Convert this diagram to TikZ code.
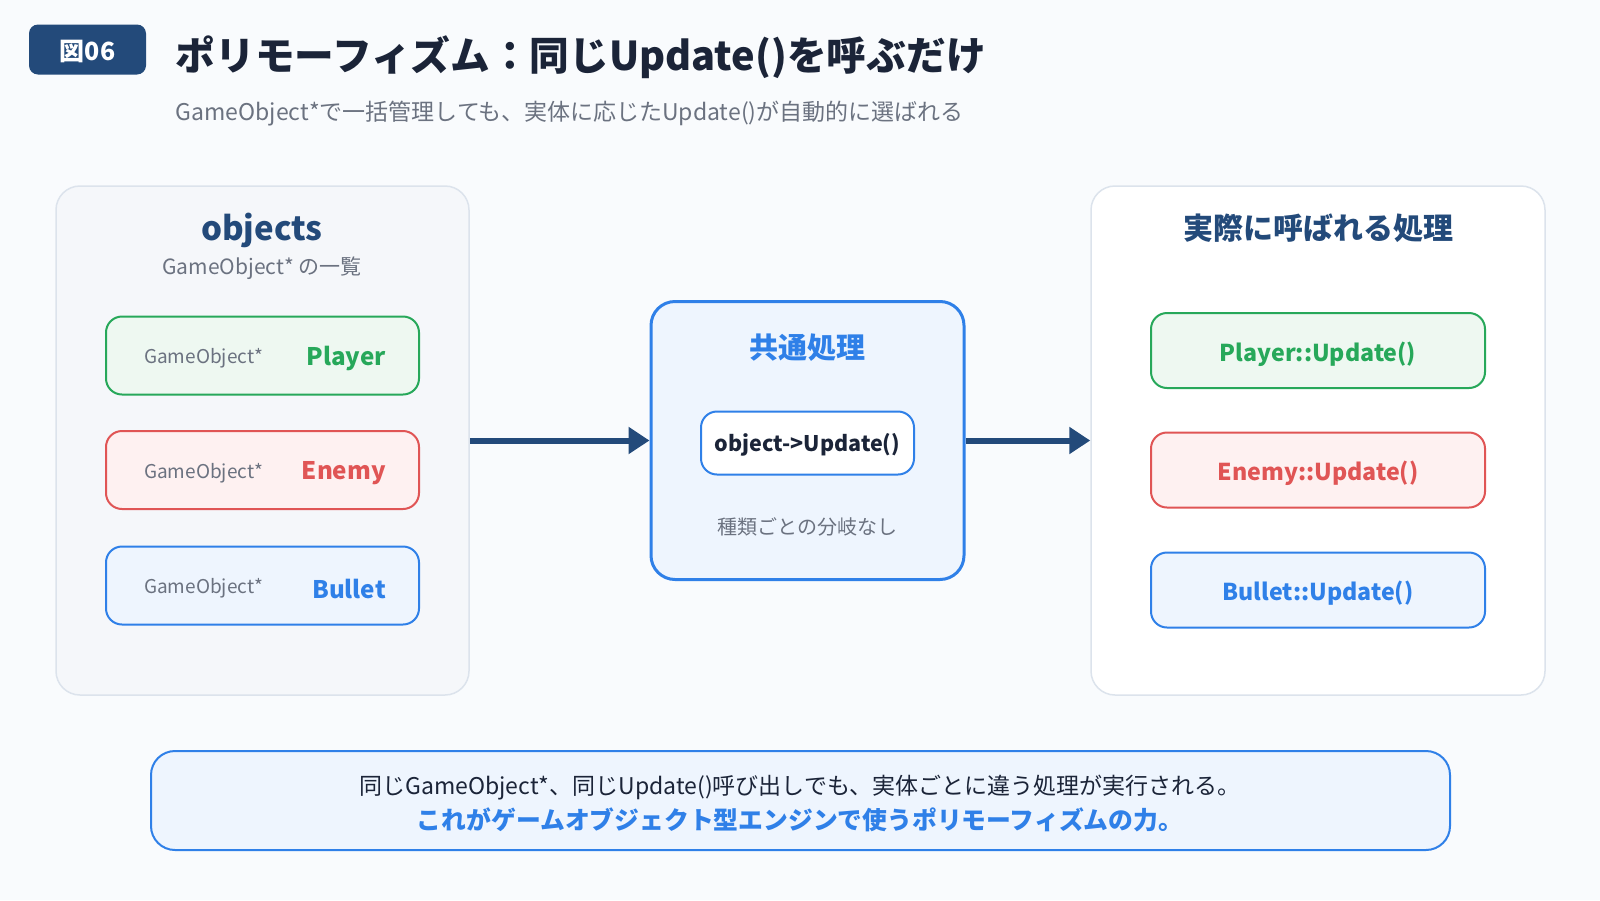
\documentclass[tikz,border=0pt]{standalone}
\usepackage{fontspec}
\setmainfont{Noto Sans CJK JP}
\usepackage{tikz}
\usetikzlibrary{arrows.meta, positioning}

\definecolor{bgpage}{HTML}{F9FBFD}
\definecolor{navy}{HTML}{234A7A}
\definecolor{ink}{HTML}{1B2438}
\definecolor{muted}{HTML}{6B7280}
\definecolor{panelgray}{HTML}{F5F7FA}
\definecolor{panelline}{HTML}{DCE3EC}
\definecolor{grn}{HTML}{27A85A}
\definecolor{grnfill}{HTML}{EEF8F1}
\definecolor{rd}{HTML}{E05555}
\definecolor{rdfill}{HTML}{FEF1F1}
\definecolor{blu}{HTML}{2F80E8}
\definecolor{blufill}{HTML}{EEF5FE}

\newcommand{\fsz}[1]{\fontsize{#1}{#1}\selectfont}

\tikzset{
  panel/.style={draw=panelline, line width=1.5pt, rounded corners=24pt,
    minimum width=#1, minimum height=509pt, inner sep=0pt},
  ptrbox/.style={draw=#1, fill=#1fill, line width=2pt, rounded corners=16pt,
    minimum width=313pt, minimum height=78pt, inner sep=0pt},
  updbox/.style={draw=#1, fill=#1fill, line width=2pt, rounded corners=16pt,
    minimum width=334pt, minimum height=75pt, inner sep=0pt},
  updtext/.style={text=#1, font=\fsz{23.2}\bfseries, inner sep=0pt},
  ptrlabel/.style={text=muted, font=\fsz{19}, inner sep=0pt, anchor=west},
  kindlabel/.style={text=#1, font=\fsz{24.2}\bfseries, inner sep=0pt, anchor=east},
  flow/.style={navy, line width=6pt, -{Triangle[length=21pt, width=26pt]}},
}

\begin{document}
\begin{tikzpicture}[x=1pt, y=-1pt]

\useasboundingbox[fill=bgpage] (0,0) rectangle (1600,900);

% header
\node[fill=navy, rounded corners=9pt, minimum width=117pt, minimum height=50pt] (badge) at (87.5,49.5) {};
\node[text=white, font=\fsz{25}\bfseries, inner sep=0pt] (badge-text) at ([yshift=-2pt]badge.center) {図06};
\node[anchor=west, inner sep=0pt, text=ink, font=\fsz{39.7}\bfseries] (title) at (175.5,57)
  {ポリモーフィズム：同じUpdate()を呼ぶだけ};
\node[anchor=west, inner sep=0pt, text=muted, font=\fsz{23}] (subtitle) at (175.5,114)
  {GameObject*で一括管理しても、実体に応じたUpdate()が自動的に選ばれる};

% left: the list of pointers
\node[panel=413pt, fill=panelgray] (objs) at (262.5,440.5) {};
\node[text=navy, font=\fsz{33}\bfseries, inner sep=0pt] (objs-title) at (262,230.5) {objects};
\node[text=muted, font=\fsz{21}, inner sep=0pt] (objs-sub) at (262,268) {GameObject* の一覧};

\node[ptrbox=grn] (ptr-player) at (262.5,355.5) {};
\node[ptrbox=rd] (ptr-enemy) at (262.5,470) {};
\node[ptrbox=blu] (ptr-bullet) at (262.5,585.5) {};

\node[ptrlabel] at ([xshift=39pt, yshift=-3pt]ptr-player.west) {GameObject*};
\node[ptrlabel] at ([xshift=39pt, yshift=-3pt]ptr-enemy.west) {GameObject*};
\node[ptrlabel] at ([xshift=39pt, yshift=-3pt]ptr-bullet.west) {GameObject*};
\node[kindlabel=grn] at ([xshift=-34pt, yshift=-3pt]ptr-player.east) {Player};
\node[kindlabel=rd] at ([xshift=-34pt, yshift=-3pt]ptr-enemy.east) {Enemy};
\node[kindlabel=blu] at ([xshift=-34pt, yshift=-3pt]ptr-bullet.east) {Bullet};

% middle: common call
\node[draw=blu, fill=blufill, line width=3pt, rounded corners=24pt,
  minimum width=313pt, minimum height=278pt] (common) at (807.5,440.5) {};
\node[text=blu, font=\fsz{29}\bfseries, inner sep=0pt] (common-title) at (807.5,348) {共通処理};
\node[draw=blu, fill=white, line width=2pt, rounded corners=16pt,
  minimum width=213pt, minimum height=63pt] (call) at (807.5,443) {};
\node[text=ink, font=\fsz{21.5}\bfseries, inner sep=0pt] (call-text) at ([yshift=-2pt]call.center) {object->Update()};
\node[text=muted, font=\fsz{20}, inner sep=0pt] (nobranch) at (807.5,526.5) {種類ごとの分岐なし};

% right: what actually runs
\node[panel=454pt, fill=white] (called) at (1318,440.5) {};
\node[text=navy, font=\fsz{30}\bfseries, inner sep=0pt] (called-title) at (1318,228.5) {実際に呼ばれる処理};

\node[updbox=grn] (upd-player) at (1318,350.5) {};
\node[updbox=rd] (upd-enemy) at (1318,470) {};
\node[updbox=blu] (upd-bullet) at (1318,590) {};
\node[updtext=grn] at ([yshift=-3.5pt]upd-player.center) {Player::Update()};
\node[updtext=rd] at ([yshift=-3.5pt]upd-enemy.center) {Enemy::Update()};
\node[updtext=blu] at ([yshift=-3.5pt]upd-bullet.center) {Bullet::Update()};

% arrows
\draw[flow] (objs.east) -- (common.west);
\draw[flow] (common.east) -- (called.west);

% note
\node[draw=blu, fill=blufill, line width=2pt, rounded corners=24pt,
  minimum width=1299pt, minimum height=99pt] (note) at (800.5,800.5) {};
\node[text=ink, font=\fsz{23}, inner sep=0pt] (note-a) at (800,788)
  {同じGameObject*、同じUpdate()呼び出しでも、実体ごとに違う処理が実行される。};
\node[text=blu, font=\fsz{24.8}\bfseries, inner sep=0pt] (note-b) at (800,820)
  {これがゲームオブジェクト型エンジンで使うポリモーフィズムの力。};

\end{tikzpicture}
\end{document}
